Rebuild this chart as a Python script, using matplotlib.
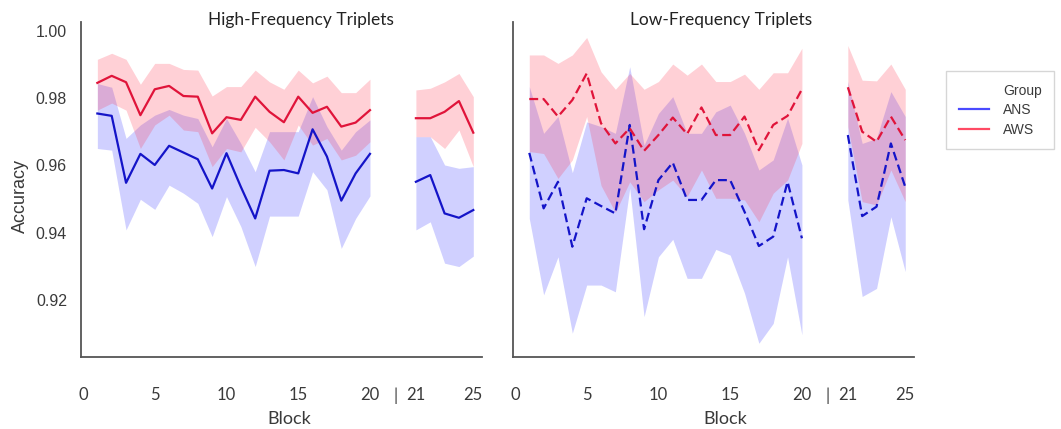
import matplotlib.pyplot as plt
from matplotlib.lines import Line2D
import numpy as np

# ── data: blocks 1-25, mean accuracy and CI band per group ───────────────────
blocks = np.arange(1, 26)

hf_ans_mean = [0.9754, 0.9747, 0.9548, 0.9634, 0.9601, 0.9658, 0.9638, 0.9618, 0.9531, 0.9636,
               0.9536, 0.9442, 0.9584, 0.9586, 0.9576, 0.9707, 0.9626, 0.9495, 0.9576, 0.9634,
               0.9551, 0.9571, 0.9457, 0.9444, 0.9467]
hf_ans_hi = [0.9843, 0.9832, 0.9680, 0.9720, 0.9749, 0.9766, 0.9749, 0.9739, 0.9655, 0.9739,
             0.9665, 0.9581, 0.9700, 0.9700, 0.9700, 0.9804, 0.9715, 0.9645, 0.9700, 0.9735,
             0.9685, 0.9685, 0.9601, 0.9591, 0.9596]
hf_ans_lo = [0.9650, 0.9645, 0.9408, 0.9499, 0.9469, 0.9541, 0.9517, 0.9487, 0.9388, 0.9507,
             0.9418, 0.9299, 0.9449, 0.9449, 0.9449, 0.9581, 0.9527, 0.9353, 0.9442, 0.9509,
             0.9408, 0.9432, 0.9309, 0.9299, 0.9330]

hf_aws_mean = [0.9845, 0.9866, 0.9847, 0.9749, 0.9826, 0.9836, 0.9806, 0.9804, 0.9695, 0.9743,
               0.9735, 0.9804, 0.9759, 0.9728, 0.9804, 0.9756, 0.9774, 0.9715, 0.9727, 0.9764,
               0.9740, 0.9740, 0.9759, 0.9791, 0.9697]
hf_aws_hi = [0.9915, 0.9933, 0.9915, 0.9841, 0.9903, 0.9903, 0.9885, 0.9883, 0.9806, 0.9834,
             0.9834, 0.9883, 0.9848, 0.9826, 0.9883, 0.9845, 0.9865, 0.9816, 0.9816, 0.9856,
             0.9824, 0.9829, 0.9848, 0.9873, 0.9804]
hf_aws_lo = [0.9764, 0.9785, 0.9764, 0.9650, 0.9720, 0.9749, 0.9705, 0.9700, 0.9596, 0.9650,
             0.9640, 0.9713, 0.9670, 0.9616, 0.9720, 0.9660, 0.9680, 0.9616, 0.9630, 0.9670,
             0.9685, 0.9685, 0.9650, 0.9705, 0.9596]

lf_ans_mean = [0.9637, 0.9472, 0.9551, 0.9358, 0.9502, 0.9479, 0.9457, 0.9720, 0.9410, 0.9556,
               0.9608, 0.9497, 0.9497, 0.9556, 0.9556, 0.9462, 0.9360, 0.9388, 0.9551, 0.9383,
               0.9690, 0.9449, 0.9477, 0.9665, 0.9536]
lf_ans_hi = [0.9834, 0.9695, 0.9745, 0.9578, 0.9729, 0.9715, 0.9695, 0.9893, 0.9660, 0.9754,
             0.9804, 0.9695, 0.9695, 0.9759, 0.9779, 0.9695, 0.9586, 0.9616, 0.9740, 0.9601,
             0.9849, 0.9665, 0.9680, 0.9819, 0.9745]
lf_ans_lo = [0.9442, 0.9215, 0.9328, 0.9101, 0.9244, 0.9244, 0.9224, 0.9532, 0.9150, 0.9328,
             0.9380, 0.9264, 0.9264, 0.9350, 0.9333, 0.9220, 0.9071, 0.9130, 0.9328, 0.9096,
             0.9497, 0.9210, 0.9234, 0.9447, 0.9284]

lf_aws_mean = [0.9797, 0.9797, 0.9745, 0.9794, 0.9873, 0.9725, 0.9665, 0.9710, 0.9643, 0.9690,
               0.9742, 0.9693, 0.9772, 0.9690, 0.9690, 0.9745, 0.9645, 0.9720, 0.9747, 0.9826,
               0.9832, 0.9700, 0.9670, 0.9745, 0.9675]
lf_aws_hi = [0.9928, 0.9928, 0.9903, 0.9928, 0.9980, 0.9878, 0.9826, 0.9873, 0.9826, 0.9849,
             0.9901, 0.9868, 0.9901, 0.9849, 0.9849, 0.9871, 0.9826, 0.9875, 0.9875, 0.9948,
             0.9956, 0.9853, 0.9851, 0.9901, 0.9826]
lf_aws_lo = [0.9641, 0.9635, 0.9561, 0.9616, 0.9745, 0.9540, 0.9460, 0.9551, 0.9492, 0.9527,
             0.9556, 0.9507, 0.9586, 0.9502, 0.9502, 0.9497, 0.9432, 0.9517, 0.9556, 0.9665,
             0.9715, 0.9492, 0.9482, 0.9586, 0.9492]

groups = ['ANS', 'AWS']
panel_titles = ['High-Frequency Triplets', 'Low-Frequency Triplets']
tick_pos = [0, 5, 10, 15, 20, 21.8, 23.2, 27.2]
tick_labels = ['0', '5', '10', '15', '20', '|', '21', '25']

LINE = {'ANS': '#1414c8', 'AWS': '#e0143a'}
FILL = {'ANS': '#2a2aff', 'AWS': '#ff2a45'}
GAP = 2.2          # blocks 21-25 are drawn shifted right, after a break
SANS = 'Liberation Sans'
TITLE_FONT = 'Lato'
TXT = '#3a3a3a'

fig = plt.figure(figsize=(10.61, 4.29), dpi=100)
axes = [fig.add_axes([0.0762, 0.1685, 0.378, 0.781]),
        fig.add_axes([0.4833, 0.1685, 0.378, 0.781])]

panels = [
    {'ANS': (hf_ans_mean, hf_ans_lo, hf_ans_hi), 'AWS': (hf_aws_mean, hf_aws_lo, hf_aws_hi)},
    {'ANS': (lf_ans_mean, lf_ans_lo, lf_ans_hi), 'AWS': (lf_aws_mean, lf_aws_lo, lf_aws_hi)},
]
styles = ['-', (0, (4, 2))]
title_x = [0.55, 0.52]
block_x = [0.52, 0.53]

for i, ax in enumerate(axes):
    for g in groups:
        mean, lo, hi = (np.asarray(a) for a in panels[i][g])
        for seg in (slice(0, 20), slice(20, 25)):
            x = blocks[seg].astype(float)
            if seg.start == 20:
                x = x + GAP
            ax.fill_between(x, lo[seg], hi[seg], color=FILL[g], alpha=0.22, lw=0)
            ax.plot(x, mean[seg], color=LINE[g], lw=1.6, ls=styles[i])

    ax.set_xlim(-0.15, 27.8)
    ax.set_ylim(0.9031, 1.0027)
    for s in ('top', 'right'):
        ax.spines[s].set_visible(False)
    for s in ('left', 'bottom'):
        ax.spines[s].set_color('#555555')
        ax.spines[s].set_linewidth(1.3)

    ax.set_xticks(tick_pos)
    ax.set_xticklabels(tick_labels, family=TITLE_FONT, fontsize=12, color=TXT)
    ax.tick_params(axis='x', length=0, pad=22)
    ax.set_yticks([0.92, 0.94, 0.96, 0.98, 1.00])
    if i == 0:
        ax.set_yticklabels(['%.2f' % v for v in ax.get_yticks()],
                           family=SANS, fontsize=11.5, color=TXT)
        ax.tick_params(axis='y', length=0, pad=10)
        ax.set_ylabel('Accuracy', family=SANS, fontsize=13, color=TXT)
        ax.yaxis.set_label_coords(-0.13, 0.48)
    else:
        ax.tick_params(axis='y', length=0, labelleft=False)

    ax.set_xlabel('Block', family=TITLE_FONT, fontsize=13, color=TXT)
    ax.xaxis.set_label_coords(block_x[i], -0.163)
    ax.text(title_x[i], 0.982, panel_titles[i], transform=ax.transAxes,
            ha='center', va='bottom', family=TITLE_FONT, fontsize=12.5, color='#222222')

handles = [Line2D([], [], color='none'),
           Line2D([], [], color='#4a4aff', lw=1.6),
           Line2D([], [], color='#ff4a64', lw=1.6)]
leg = fig.legend(handles, ['Group'] + groups, loc='upper left',
                 bbox_to_anchor=(946 / 1061, 1 - 71 / 429), borderaxespad=0,
                 prop={'family': SANS, 'size': 10}, fancybox=False, edgecolor='#cccccc',
                 handlelength=2.2, handletextpad=1.0, labelspacing=0.4, borderpad=0.9)
for t in leg.get_texts():
    t.set_color(TXT)

fig.savefig('out.png', dpi=100, facecolor='white')
